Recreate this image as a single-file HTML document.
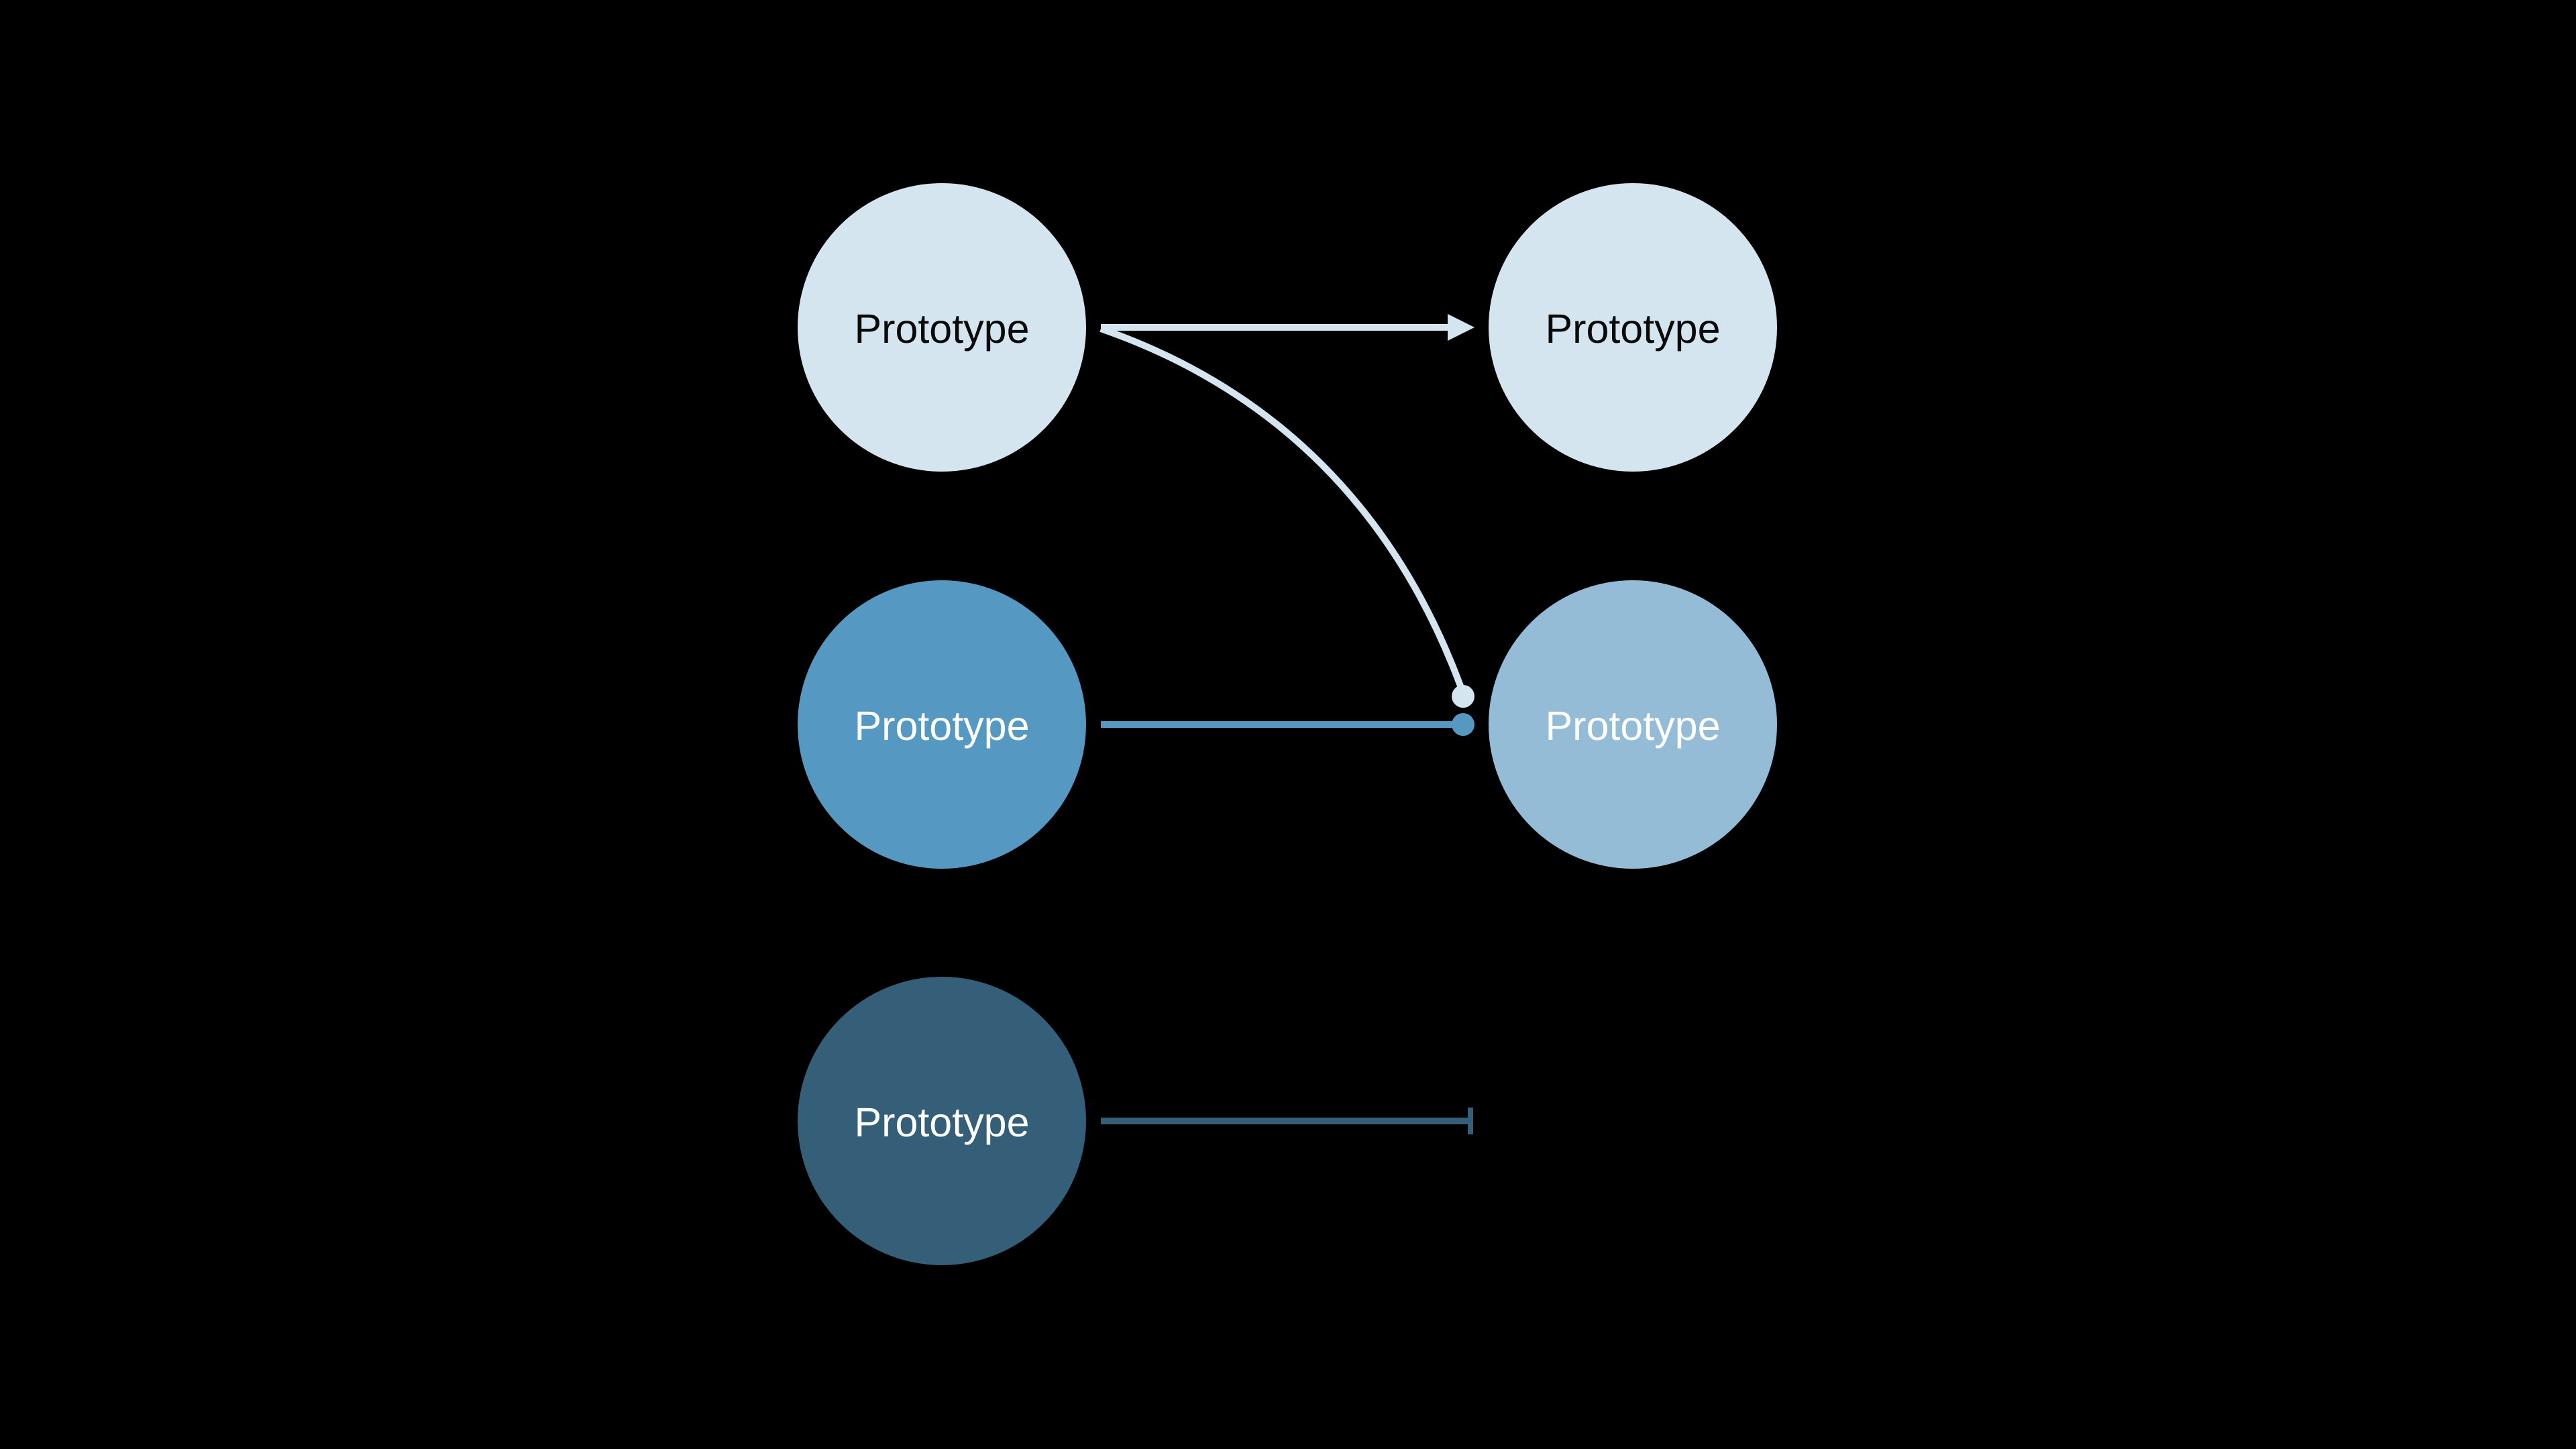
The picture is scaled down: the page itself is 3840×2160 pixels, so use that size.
<!DOCTYPE html>
<html><head><meta charset="utf-8"><style>
html,body{margin:0;padding:0;background:#000;width:3840px;height:2160px;overflow:hidden}
svg{display:block}
text{font-family:"Liberation Sans",sans-serif;font-size:61px;text-anchor:middle;dominant-baseline:central}
</style></head><body>
<svg width="3840" height="2160" viewBox="0 0 3840 2160">
<circle cx="1404" cy="488" r="215" fill="#d4e5f0"/>
<circle cx="2434" cy="488" r="215" fill="#d4e5f0"/>
<circle cx="1404" cy="1080" r="215" fill="#5598c2"/>
<circle cx="2434" cy="1080" r="215" fill="#94bcd7"/>
<circle cx="1404" cy="1671" r="215" fill="#355e78"/>
<text x="1404" y="490" fill="#0a0a0a">Prototype</text>
<text x="2434" y="490" fill="#0a0a0a">Prototype</text>
<text x="1404" y="1082" fill="#fff">Prototype</text>
<text x="2434" y="1082" fill="#fff">Prototype</text>
<text x="1404" y="1673" fill="#fff">Prototype</text>
<line x1="1641" y1="488" x2="2165" y2="488" stroke="#d4e5f0" stroke-width="10"/>
<polygon points="2158,468 2198,488 2158,508" fill="#d4e5f0"/>
<path d="M1641 490 C1900 580,2080 760,2178 1025" fill="none" stroke="#d4e5f0" stroke-width="10"/>
<circle cx="2181" cy="1038" r="17" fill="#d4e5f0"/>
<line x1="1641" y1="1080" x2="2181" y2="1080" stroke="#5598c2" stroke-width="10"/>
<circle cx="2181" cy="1080" r="17" fill="#5598c2"/>
<line x1="1641" y1="1671" x2="2192" y2="1671" stroke="#355e78" stroke-width="10"/>
<rect x="2188" y="1651" width="8" height="40" fill="#355e78"/>
</svg>
</body></html>
